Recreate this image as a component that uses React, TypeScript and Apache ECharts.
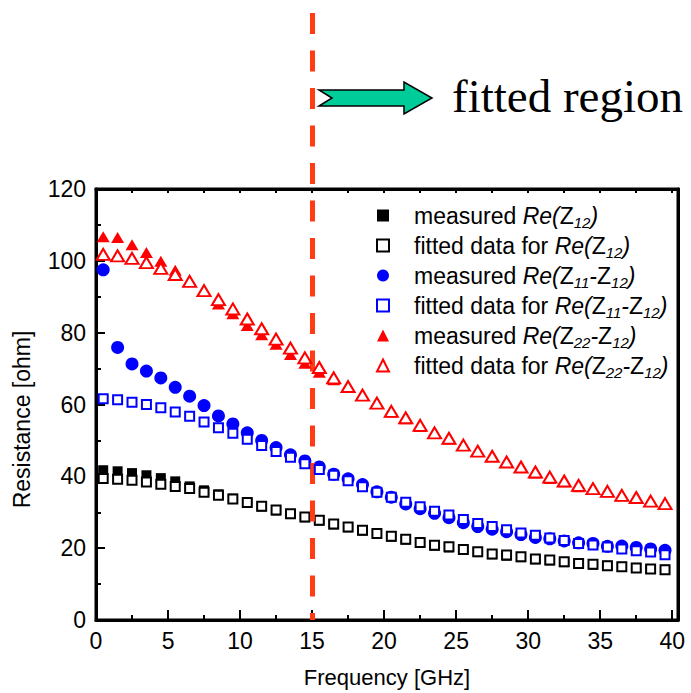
import React, { useEffect, useRef } from 'react';
import * as echarts from 'echarts';

// ---------------- data ----------------
const freq = [
  0.5, 1.5, 2.5, 3.5, 4.5, 5.5, 6.5, 7.5, 8.5, 9.5,
  10.5, 11.5, 12.5, 13.5, 14.5, 15.5, 16.5, 17.5, 18.5, 19.5,
  20.5, 21.5, 22.5, 23.5, 24.5, 25.5, 26.5, 27.5, 28.5, 29.5,
  30.5, 31.5, 32.5, 33.5, 34.5, 35.5, 36.5, 37.5, 38.5, 39.5,
];

const measuredZ12 = [
  41.7, 41.4, 40.9, 40.3, 39.5, 38.6, 37.2, 36.1, 35.0, 33.8,
  32.7, 31.6, 30.5, 29.5, 28.6, 27.7, 26.6, 25.8, 24.9, 24.0,
  23.2, 22.4, 21.5, 20.7, 20.2, 19.5, 18.9, 18.3, 17.9, 17.5,
  16.9, 16.6, 16.1, 15.7, 15.4, 15.1, 14.8, 14.5, 14.2, 14.0,
];
const fittedZ12 = [
  39.4, 39.2, 38.9, 38.4, 37.8, 37.2, 36.6, 35.6, 34.7, 33.7,
  32.7, 31.7, 30.6, 29.6, 28.7, 27.8, 26.7, 25.9, 25.0, 24.1,
  23.3, 22.5, 21.6, 20.8, 20.4, 19.6, 19.0, 18.4, 18.1, 17.6,
  17.0, 16.7, 16.2, 15.7, 15.5, 15.1, 14.8, 14.5, 14.2, 14.0,
];
const measuredZ11 = [
  97.5, 75.9, 71.3, 69.3, 67.4, 64.8, 62.3, 59.7, 56.8, 54.6,
  52.1, 50.0, 48.0, 46.0, 44.3, 42.6, 40.6, 39.3, 37.7, 35.7,
  34.2, 32.3, 31.0, 29.7, 28.5, 27.1, 26.0, 25.3, 24.6, 23.8,
  23.0, 22.6, 22.0, 21.5, 21.3, 20.5, 20.6, 20.2, 19.8, 19.4,
];
const fittedZ11 = [
  61.6, 61.3, 60.6, 60.0, 59.1, 57.9, 56.7, 55.1, 53.5, 52.0,
  50.3, 48.6, 46.9, 45.3, 43.5, 41.9, 40.3, 38.8, 37.1, 35.6,
  34.2, 32.8, 31.5, 30.3, 29.2, 28.0, 26.9, 26.0, 25.1, 24.2,
  23.6, 22.8, 22.1, 21.3, 20.9, 20.3, 19.8, 19.3, 18.9, 18.2,
];
const measuredZ22 = [
  106.7, 106.5, 104.5, 102.3, 99.9, 97.4, 94.3, 91.5, 88.0, 85.3,
  82.0, 79.4, 76.8, 73.9, 71.5, 69.0, 66.9, 65.0, 62.5, 60.3,
  57.9, 56.0, 53.9, 51.9, 50.4, 48.6, 46.9, 45.5, 43.9, 42.5,
  40.9, 39.4, 38.5, 37.1, 36.5, 35.7, 34.6, 33.8, 33.0, 32.3,
];
const fittedZ22 = [
  101.8, 101.4, 100.7, 99.5, 97.9, 96.2, 94.3, 91.7, 89.2, 86.6,
  83.8, 81.1, 78.2, 75.7, 73.0, 70.3, 67.4, 65.0, 62.6, 60.4,
  58.1, 56.3, 54.2, 52.1, 50.6, 48.7, 47.0, 45.6, 44.0, 42.6,
  41.2, 39.8, 38.7, 37.5, 36.6, 35.8, 34.7, 34.1, 33.1, 32.4,
];

const fitStart = [15];

const seriesNames = [
  'measured Re(Z12)',
  'fitted data for Re(Z12)',
  'measured Re(Z11-Z12)',
  'fitted data for Re(Z11-Z12)',
  'measured Re(Z22-Z12)',
  'fitted data for Re(Z22-Z12)',
];
const legendRich = [
  '{n|measured }{i|Re(}{n|Z}{s|12}{i|)}',
  '{n|fitted data for }{i|Re(}{n|Z}{s|12}{i|)}',
  '{n|measured }{i|Re(}{n|Z}{s|11}{i|-}{n|Z}{s|12}{i|)}',
  '{n|fitted data for }{i|Re(}{n|Z}{s|11}{i|-}{n|Z}{s|12}{i|)}',
  '{n|measured }{i|Re(}{n|Z}{s|22}{i|-}{n|Z}{s|12}{i|)}',
  '{n|fitted data for }{i|Re(}{n|Z}{s|22}{i|-}{n|Z}{s|12}{i|)}',
];

const annotationText = 'fitted region';
const xAxisTitle = 'Frequency [GHz]';
const yAxisTitle = 'Resistance [ohm]';

// ---------------- shapes ----------------
echarts.graphic.registerShape(
  'fitArrow',
  echarts.graphic.extendPath('M0,-8 L85,-8 L85,-16 L113,0 L85,16 L85,8 L0,8 L13,0 Z', {})
);

const SANS = '"Liberation Sans", Arial, Helvetica, sans-serif';
const SERIF = '"Liberation Serif", "Times New Roman", Times, serif';

function pairs(vals: number[]) {
  return freq.map((f, i) => [f, vals[i]]);
}

const RED = '#ff0000';
const BLUE = '#0000ff';
const BLACK = '#000000';

function frameLine() {
  return { show: true, onZero: false, lineStyle: { color: BLACK, width: 3, opacity: 1 } };
}

function buildOption() {
  const styles = [
    { symbol: 'rect', size: 10, color: BLACK },
    { symbol: 'emptyRect', size: 9, color: BLACK },
    { symbol: 'circle', size: 13, color: BLUE },
    { symbol: 'emptyRect', size: 9, color: BLUE },
    { symbol: 'triangle', size: [13, 11], color: RED },
    { symbol: 'emptyTriangle', size: [13, 11], color: RED },
  ];
  const values = [measuredZ12, fittedZ12, measuredZ11, fittedZ11, measuredZ22, fittedZ22];
  const scatter = values.map((v, k) => ({
    type: 'scatter',
    name: seriesNames[k],
    xAxisIndex: 0,
    yAxisIndex: 0,
    symbol: styles[k].symbol,
    symbolSize: styles[k].size,
    itemStyle: { color: styles[k].color, borderColor: styles[k].color, borderWidth: 0, opacity: 1 },
    data: pairs(v),
    z: 2 + k,
    silent: true,
  }));

  const richMap: Record<string, string> = {};
  seriesNames.forEach((n, i) => (richMap[n] = legendRich[i]));

  return {
    animation: false,
    backgroundColor: '#ffffff',
    textStyle: { fontFamily: SANS, color: BLACK },
    grid: [
      {
        left: 96, right: 13, top: 189, bottom: 73, containLabel: false,
        show: true, borderColor: BLACK, borderWidth: 3, backgroundColor: 'transparent',
      },
      { left: 96, right: 13, top: 13, bottom: 73, containLabel: false },
    ],
    xAxis: [
      {
        type: 'value',
        gridIndex: 0,
        position: 'bottom',
        min: 0,
        max: 40.4,
        interval: 5,
        axisLine: frameLine(),
        axisTick: { show: true, inside: true, length: 10, lineStyle: { color: BLACK, width: 2 } },
        minorTick: { show: true, splitNumber: 2, length: 5, lineStyle: { color: BLACK, width: 2 } },
        splitLine: { show: false },
        minorSplitLine: { show: false },
        axisLabel: {
          fontSize: 23,
          color: BLACK,
          margin: 9,
          fontFamily: SANS,
          formatter: (v: number) => (Math.abs(v % 5) < 1e-6 ? String(v) : ''),
        },
        name: xAxisTitle,
        nameLocation: 'middle',
        nameGap: 46,
        nameTextStyle: { fontSize: 22, color: BLACK, fontFamily: SANS },
      },
      {
        type: 'value',
        gridIndex: 0,
        position: 'top',
        min: 0,
        max: 40.4,
        interval: 2.5,
        axisLine: frameLine(),
        axisTick: { show: true, inside: true, length: 4, lineStyle: { color: BLACK, width: 2 } },
        axisLabel: { show: false },
        splitLine: { show: false },
      },
      {
        type: 'value',
        gridIndex: 1,
        min: 0,
        max: 40.4,
        show: false,
        splitLine: { show: false },
      },
    ],
    yAxis: [
      {
        type: 'value',
        gridIndex: 0,
        position: 'left',
        min: 0,
        max: 120,
        interval: 20,
        axisLine: frameLine(),
        axisTick: { show: true, inside: true, length: 9, lineStyle: { color: BLACK, width: 2 } },
        minorTick: { show: true, splitNumber: 2, length: 5, lineStyle: { color: BLACK, width: 2 } },
        splitLine: { show: false },
        axisLabel: { fontSize: 23, color: BLACK, margin: 10, fontFamily: SANS },
        name: yAxisTitle,
        nameLocation: 'middle',
        nameGap: 63,
        nameTextStyle: { fontSize: 23, color: BLACK, fontFamily: SANS, padding: [0, 30, 0, 0] },
      },
      {
        type: 'value',
        gridIndex: 0,
        position: 'right',
        min: 0,
        max: 120,
        axisLine: frameLine(),
        axisTick: { show: false },
        axisLabel: { show: false },
        splitLine: { show: false },
      },
      {
        type: 'value',
        gridIndex: 1,
        min: 0,
        max: 1,
        show: false,
        splitLine: { show: false },
      },
    ],
    legend: {
      orient: 'vertical',
      left: 376,
      top: 204,
      padding: 0,
      itemWidth: 12,
      itemHeight: 12,
      itemGap: 4.5,
      selectedMode: false,
      data: seriesNames,
      formatter: (name: string) => richMap[name] || name,
      textStyle: {
        fontSize: 23,
        color: BLACK,
        fontFamily: SANS,
        padding: [0, 0, 0, 20],
        rich: {
          n: { fontSize: 23, fontFamily: SANS, color: BLACK, lineHeight: 28, verticalAlign: 'middle' },
          i: { fontSize: 23, fontFamily: SANS, fontStyle: 'italic', color: BLACK, lineHeight: 28, verticalAlign: 'middle' },
          s: { fontSize: 15, fontFamily: SANS, fontStyle: 'italic', color: BLACK, lineHeight: 28, verticalAlign: 'bottom' },
        },
      },
    },
    series: [
      ...scatter,
      {
        type: 'scatter',
        name: 'fit boundary',
        xAxisIndex: 2,
        yAxisIndex: 2,
        data: [],
        silent: true,
        z: 20,
        markLine: {
          silent: true,
          animation: false,
          symbol: ['none', 'none'],
          label: { show: false },
          lineStyle: { color: '#ff3c14', width: 5, type: [21, 16.5], dashOffset: 0, opacity: 1 },
          data: [[{ coord: [fitStart[0], 1] }, { coord: [fitStart[0], 0] }]],
        },
      },
    ],
    graphic: [
      {
        type: 'fitArrow',
        x: 319,
        y: 98,
        z: 30,
        style: { fill: '#00cc99', stroke: '#000000', lineWidth: 1.5 },
      },
      {
        type: 'text',
        x: 452,
        y: 96,
        z: 30,
        style: {
          text: annotationText,
          fontSize: 47,
          fontFamily: SERIF,
          fill: '#000000',
          align: 'left',
          verticalAlign: 'middle',
        },
      },
    ],
  };
}

export default function App() {
  const ref = useRef<HTMLDivElement>(null);
  useEffect(() => {
    if (!ref.current) return;
    const chart = echarts.init(ref.current, null, { renderer: 'svg' });
    chart.setOption(buildOption() as any);
    return () => chart.dispose();
  }, []);
  return (
    <div
      ref={ref}
      style={{ position: 'fixed', left: 0, top: 0, width: 691, height: 693, background: '#ffffff' }}
    />
  );
}
